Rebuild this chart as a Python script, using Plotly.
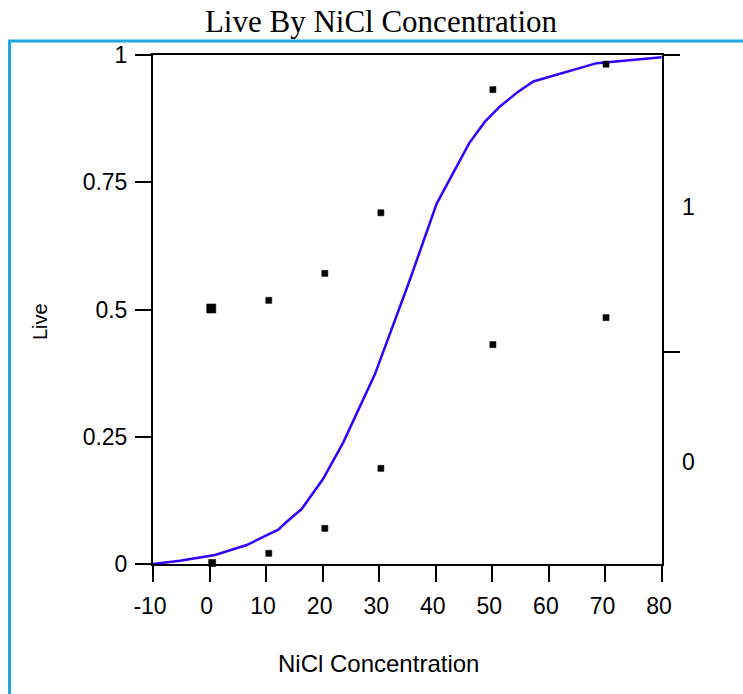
import plotly.graph_objects as go

# Observed data points (jittered in the original JMP-style plot)
pt_x = [0.30, 10.47, 20.38, 30.29, 50.10, 70.10, 70.10, 50.10, 30.29, 20.38, 10.47, 0.47]
pt_y = [0.502, 0.518, 0.571, 0.690, 0.932, 0.982, 0.484, 0.431, 0.188, 0.070, 0.021, 0.002]
pt_size = [9, 6, 6, 6, 6, 6, 6, 6, 6, 6, 6, 7]

# Fitted logistic curve
curve_x = [-10.0, -5.23, 0.96, 6.57, 12.15, 13.64, 16.29, 20.06, 23.65, 29.25,
           35.44, 40.16, 45.92, 48.70, 51.35, 54.59, 57.24, 68.45, 79.94]
curve_y = [0.0, 0.0065, 0.0176, 0.0373, 0.0673, 0.0829, 0.108, 0.167, 0.239, 0.373,
           0.559, 0.708, 0.827, 0.869, 0.899, 0.928, 0.948, 0.984, 0.9955]

x_ticks = [-10, 0, 10, 20, 30, 40, 50, 60, 70, 80]
x_tick_text = ["-10", "0", "10", "20", "30", "40", "50", "60", "70", "80"]
y_ticks = [0, 0.25, 0.5, 0.75, 1]
y_tick_text = ["0", "0.25", "0.5", "0.75", "1"]

# Right axis: level split (proportion) and level labels
split = 0.417
right_labels = ["1", "0"]

SANS = "Liberation Sans, Arial, sans-serif"

fig = go.Figure()
fig.add_trace(go.Scatter(
    x=curve_x, y=curve_y, mode="lines",
    line=dict(color="#3300ff", width=2.5),
    hoverinfo="skip", showlegend=False))
fig.add_trace(go.Scatter(
    x=pt_x, y=pt_y, mode="markers",
    marker=dict(symbol="square", size=pt_size, color="black", opacity=1,
                line=dict(width=0.6, color="black")),
    cliponaxis=False, showlegend=False))
# invisible trace to activate right axis
fig.add_trace(go.Scatter(x=[None], y=[None], yaxis="y2", showlegend=False))

axis_font = dict(family=SANS, size=23, color="black")

fig.update_layout(
    width=743, height=694,
    margin=dict(l=153, r=81, t=55, b=130),
    paper_bgcolor="white", plot_bgcolor="white",
    font=dict(family=SANS, color="black"),
    title=dict(text="Live By NiCl Concentration",
               font=dict(family="Liberation Serif, Times New Roman, serif", size=31, color="black"),
               x=381/743, xref="container", xanchor="center",
               y=1 - 21/694, yref="container", yanchor="middle"),
    xaxis=dict(range=[-10, 80], tickvals=x_ticks, ticktext=x_tick_text,
               ticks="outside", ticklen=16,
               tickwidth=2, tickcolor="black", showline=True, linecolor="black",
               linewidth=2, mirror=True, showgrid=False, zeroline=False,
               tickfont=axis_font, ticklabelstandoff=4, ticklabelshift=-3),
    yaxis=dict(range=[0, 1], tickvals=y_ticks, ticktext=y_tick_text, ticks="outside",
               ticklen=16, tickwidth=2, tickcolor="black", showline=True,
               linecolor="black", linewidth=2, showgrid=False, zeroline=False,
               tickfont=axis_font, ticklabelstandoff=3),
    yaxis2=dict(range=[0, 1], overlaying="y", side="right", tickvals=[1, split],
                ticks="outside", ticklen=16, tickwidth=2, tickcolor="black",
                showticklabels=False, showline=True, linecolor="black", linewidth=2,
                showgrid=False, zeroline=False),
)

# axis titles
fig.add_annotation(text="NiCl Concentration", x=(378 - 153) / 509, xref="paper",
                   y=(564 - 663) / 509, yref="paper", showarrow=False,
                   xanchor="center", yanchor="middle",
                   font=dict(family=SANS, size=24, color="black"))
fig.add_annotation(text="Live", x=(40 - 153) / 509, xref="paper",
                   y=(564 - 322) / 509, yref="paper", showarrow=False, textangle=-90,
                   xanchor="center", yanchor="middle",
                   font=dict(family=SANS, size=20, color="black"))

for lab, yv in zip(right_labels, [(1 + split) / 2, split / 2]):
    fig.add_annotation(text=lab, x=(688 - 153) / 509, xref="paper", y=yv, yref="y",
                       yshift=-4, showarrow=False, xanchor="center", yanchor="middle",
                       font=axis_font)

# cyan frame lines (top and left)
fig.add_shape(type="line", xref="paper", yref="paper",
              x0=(8 - 153) / 509, x1=(745 - 153) / 509,
              y0=(564 - 41) / 509, y1=(564 - 41) / 509,
              line=dict(color="#22a8e0", width=3))
fig.add_shape(type="line", xref="paper", yref="paper",
              x0=(9.5 - 153) / 509, x1=(9.5 - 153) / 509,
              y0=(564 - 41) / 509, y1=(564 - 700) / 509,
              line=dict(color="#22a8e0", width=3))

fig.write_html("out.html", config={"displayModeBar": False},
               post_script="document.body.style.margin='0';document.body.style.overflow='hidden';")
